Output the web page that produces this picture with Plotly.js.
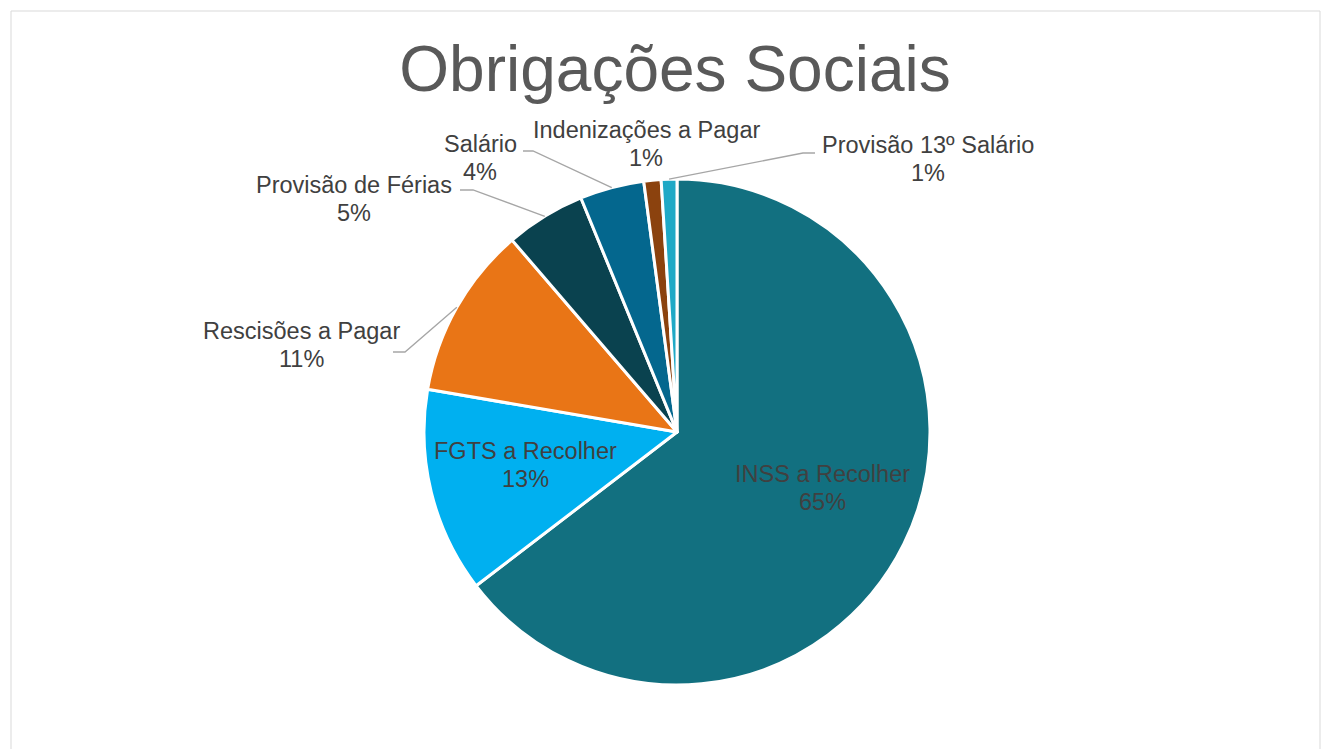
<!DOCTYPE html>
<html><head><meta charset="utf-8">
<script src="https://cdn.plot.ly/plotly-3.0.1.min.js"></script>
<style>html,body{margin:0;padding:0;background:#fff;}#chart{width:1331px;height:749px;}</style>
</head><body><div id="chart"></div>
<script>
// ---- data ----
const categories = ["INSS a Recolher","FGTS a Recolher","Rescisões a Pagar","Provisão de Férias","Salário","Indenizações a Pagar","Provisão 13º Salário"];
const values = [64.6, 13.1, 11.0, 5.1, 4.1, 1.1, 1.0];
const colors = ["#127080","#00B0F0","#E97516","#0A424F","#04678E","#8B420E","#1FA9C6"];

// ---- layout config (pixel geometry) ----
const W = 1331, H = 749;
const CX = 677, CY = 432, R = 253;
const LINE_GAP = 28;
// label block centres and leader-line knee (null = no leader)
const labelCfg = [
  {x: 822, y: 488, knee: null},
  {x: 525, y: 465, knee: null},
  {x: 301, y: 345, knee: [[393,352],[405,352]]},
  {x: 354, y: 199, knee: [[460,190],[473,190]]},
  {x: 480, y: 158, knee: [[523,151],[533,151]]},
  {x: 646, y: 144, knee: null},
  {x: 928, y: 159, knee: [[815,153],[803,153]]}
];
const px = x => x / W, py = y => 1 - y / H;
const labelFont = {family:'Liberation Sans, Arial, sans-serif', size:23.5, color:'#404040'};

const total = values.reduce((a,b)=>a+b,0);
let cum = 0;
const annotations = [], shapes = [];
values.forEach((v,i)=>{
  const a0 = cum / total * 360; cum += v; const a1 = cum / total * 360;
  const mid = (a0 + a1) / 2 * Math.PI / 180;
  const ex = CX + R * Math.sin(mid), ey = CY - R * Math.cos(mid);
  const pct = Math.round(v / total * 100) + '%';
  const c = labelCfg[i];
  [categories[i], pct].forEach((t,k)=>{
    annotations.push({
      xref:'paper', yref:'paper', x: px(c.x), y: py(c.y + (k ? LINE_GAP/2 : -LINE_GAP/2)),
      xanchor:'center', yanchor:'middle', text: t, showarrow:false, align:'center', font: labelFont
    });
  });
  if (c.knee) {
    const p = c.knee;
    shapes.push({type:'path', xref:'paper', yref:'paper',
      path: `M ${px(p[0][0])},${py(p[0][1])} L ${px(p[1][0])},${py(p[1][1])} L ${px(ex)},${py(ey)}`,
      line:{color:'#A6A6A6', width:1.3}});
  }
});
// outer chart frame
shapes.push({type:'rect', xref:'paper', yref:'paper', x0: px(11), x1: px(1320), y0: py(760), y1: py(11),
  line:{color:'#D9D9D9', width:1}, fillcolor:'rgba(0,0,0,0)', layer:'below'});

const trace = {
  type:'pie', labels: categories, values: values, sort:false, direction:'clockwise', rotation:0,
  marker:{colors: colors, line:{color:'#FFFFFF', width:3}},
  textinfo:'none', hoverinfo:'label+percent', showlegend:false,
  domain:{x:[px(CX-R), px(CX+R)], y:[py(CY+R), py(CY-R)]}
};

const layout = {
  width: W, height: H, margin:{l:0,r:0,t:0,b:0}, paper_bgcolor:'#FFFFFF',
  title:{text:'Obrigações Sociais', font:{family:'Liberation Sans, Arial, sans-serif', size:64, color:'#595959'},
    x: px(675), xanchor:'center', y: py(69), yanchor:'middle'},
  annotations: annotations, shapes: shapes, showlegend:false
};
Plotly.newPlot('chart', [trace], layout, {displayModeBar:false, staticPlot:true});
</script></body></html>
